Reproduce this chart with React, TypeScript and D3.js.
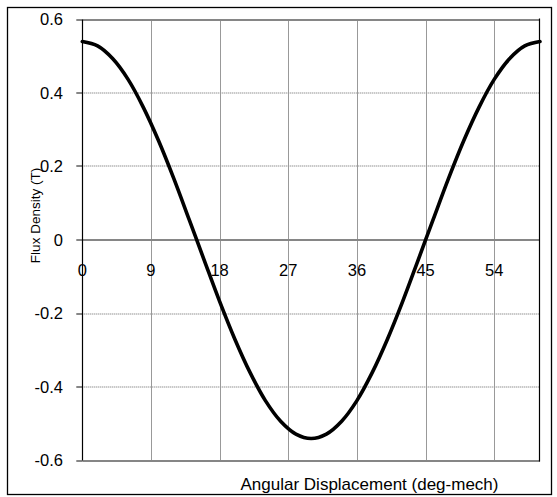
import React from "react";
import * as d3 from "d3";

const angles = [0, 2, 4, 6, 8, 10, 12, 14, 16, 18, 20, 22, 24, 26, 28, 30, 32, 34, 36, 38, 40, 42, 44, 46, 48, 50, 52, 54, 56, 58, 60];
const flux = [0.540, 0.528, 0.493, 0.437, 0.361, 0.270, 0.167, 0.056, -0.056, -0.167, -0.270, -0.361, -0.437, -0.493, -0.528, -0.540, -0.528, -0.493, -0.437, -0.361, -0.270, -0.167, -0.056, 0.056, 0.167, 0.270, 0.361, 0.437, 0.493, 0.528, 0.540];
const xTicks = [0, 9, 18, 27, 36, 45, 54];
const yTicks = [0.6, 0.4, 0.2, 0, -0.2, -0.4, -0.6];
const yTickLabels = ["0.6", "0.4", "0.2", "0", "-0.2", "-0.4", "-0.6"];
const xTitle = "Angular Displacement (deg-mech)";
const yTitle = "Flux Density (T)";

const W = 557;
const H = 497;
const FONT = "'Liberation Sans', Arial, sans-serif";

export default function App() {
  const x = d3.scaleLinear().domain([0, 60]).range([82.3, 540]);
  const y = d3.scaleLinear().domain([-0.6, 0.6]).range([460.5, 19.5]);
  const line = d3
    .line<number>()
    .x((_, i) => x(angles[i]))
    .y((d) => y(d))
    .curve(d3.curveCatmullRom.alpha(0.5));
  const path = line(flux) || "";
  const x0 = x(0);
  const x1 = x(60);
  const yTop = y(0.6);
  const yBot = y(-0.6);

  return (
    <svg
      width={W}
      height={H}
      style={{ position: "absolute", left: 0, top: 0, background: "#fff" }}
      fontFamily={FONT}
    >
      <rect x={0} y={0} width={W} height={H} fill="#fff" />
      <rect x={7.5} y={7.5} width={544} height={487} fill="none" stroke="#000" strokeWidth={1.3} />

      {/* vertical dotted gridlines */}
      {xTicks.filter((t) => t !== 0).map((t) => (
        <line
          key={"vx" + t}
          x1={Math.round(x(t)) + 0.5}
          x2={Math.round(x(t)) + 0.5}
          y1={yTop}
          y2={yBot}
          stroke="#333"
          strokeWidth={1}
          strokeDasharray="1,1"
        />
      ))}

      {/* horizontal gridlines */}
      {yTicks.map((t) => {
        const yy = Math.round(y(t));
        const solid = t === 0 || t === 0.6 || t === -0.6;
        return (
          <g key={"hy" + t}>
            <line
              x1={x0}
              x2={x1}
              y1={yy}
              y2={yy}
              stroke={solid ? "#868686" : "#9a9a9a"}
              strokeWidth={solid ? 2 : 1.6}
              strokeDasharray={solid ? undefined : "1,1"}
            />
            <line x1={x0 - 6} x2={x0} y1={yy} y2={yy} stroke="#868686" strokeWidth={2} />
          </g>
        );
      })}

      {/* axis lines */}
      <line x1={Math.round(x0) + 0.5} x2={Math.round(x0) + 0.5} y1={yTop} y2={yBot} stroke="#000" strokeWidth={1.2} />
      <line x1={Math.round(x1) - 0.5} x2={Math.round(x1) - 0.5} y1={yTop - 1} y2={yBot + 1} stroke="#000" strokeWidth={1.2} />

      {/* y tick labels */}
      {yTicks.map((t, i) => (
        <text
          key={"yl" + t}
          x={63}
          y={y(t)}
          dy="0.36em"
          textAnchor="end"
          fontSize={16.5}
          fill="#000"
        >
          {yTickLabels[i]}
        </text>
      ))}

      {/* x tick labels */}
      {xTicks.map((t) => (
        <text key={"xl" + t} x={x(t)} y={276} textAnchor="middle" fontSize={16.5} fill="#000">
          {String(t)}
        </text>
      ))}

      {/* curve */}
      <path d={path} fill="none" stroke="#000" strokeWidth={3.6} strokeLinejoin="round" strokeLinecap="round" />

      {/* titles */}
      <text x={369.5} y={489.5} textAnchor="middle" fontSize={17} fill="#000">
        {xTitle}
      </text>
      <text
        transform={`translate(40,215.5) rotate(-90)`}
        textAnchor="middle"
        fontSize={13.5}
        fill="#000"
      >
        {yTitle}
      </text>
    </svg>
  );
}
